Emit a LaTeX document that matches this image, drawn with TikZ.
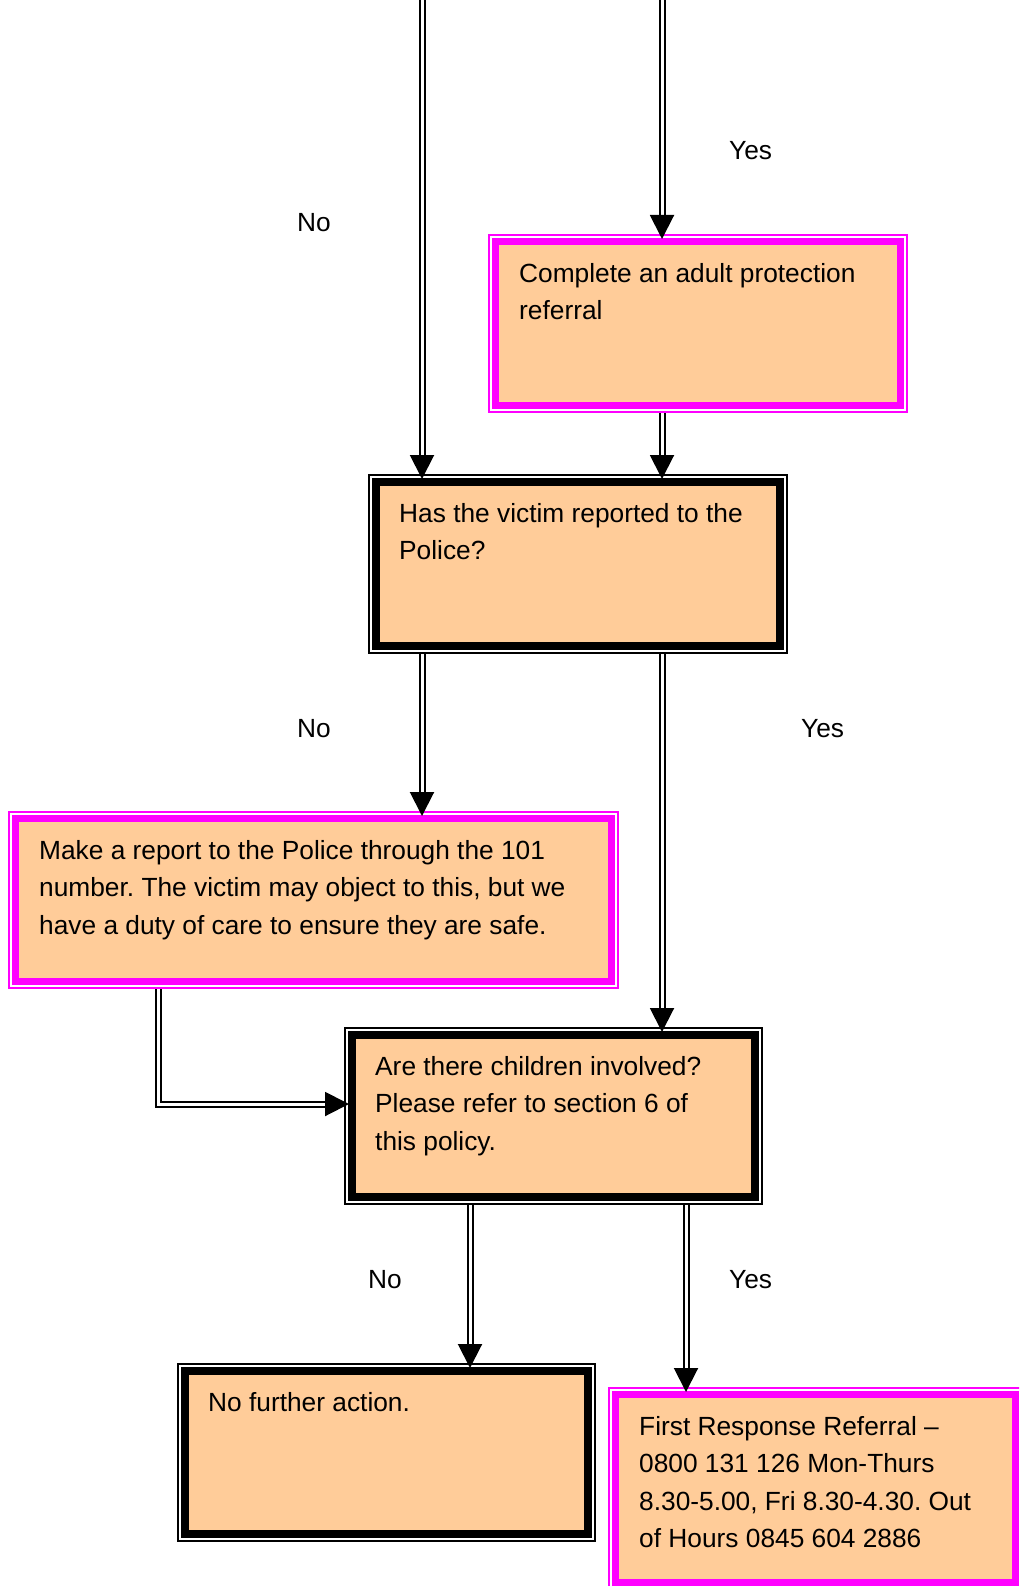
\documentclass[tikz,border=0pt]{standalone}
\usepackage{fontspec}
\setmainfont{Liberation Sans}
\usetikzlibrary{arrows.meta}

\definecolor{boxfill}{HTML}{FFCC99}
\definecolor{boxpink}{HTML}{FF00FF}

\tikzset{
  pinkbox/.style={draw=boxpink, fill=boxfill, line width=7pt, inner sep=0pt, outer sep=7.5pt},
  blackbox/.style={draw=black, fill=boxfill, line width=8pt, inner sep=0pt, outer sep=8pt},
  boxtext/.style={anchor=north west, inner sep=0pt, align=left,
    font=\fontsize{26.3}{37.4}\selectfont\frenchspacing, execute at begin node=\strut},
  answer/.style={anchor=base west, inner sep=0pt, font=\fontsize{26.3}{37.4}\selectfont},
  link/.style={draw=black, line width=2pt, double=white, double distance=3pt,
    -{Triangle[width=24pt,length=24pt]}, shorten >=-5pt},
}

\begin{document}
\begin{tikzpicture}[x=1pt,y=-1pt]
  \useasboundingbox (0,0) rectangle (1019,1586);
  \clip (0,0) rectangle (1019,1586);

  % boxes
  \node[pinkbox, minimum width=405pt, minimum height=164pt] (referral) at (698,323.5) {};
  \node[blackbox, minimum width=404pt, minimum height=164pt] (police) at (578,564) {};
  \node[pinkbox, minimum width=596pt, minimum height=163pt] (report) at (313.5,900) {};
  \node[blackbox, minimum width=403pt, minimum height=162pt] (children) at (553.5,1116) {};
  \node[blackbox, minimum width=403pt, minimum height=163pt] (nfa) at (386.5,1452.5) {};
  \node[pinkbox, minimum width=400pt, minimum height=188pt] (first) at (815.5,1488.5) {};

  % thin outer frames
  \foreach \b/\c in {referral/boxpink, police/black, report/boxpink, children/black, nfa/black, first/boxpink}
    \draw[draw=\c, line width=2pt] ([shift={(1,1)}]\b.north west) rectangle ([shift={(-1,-1)}]\b.south east);

  % texts
  \node[boxtext] (referral-text) at ([shift={(31,29)}]referral.north west)
    {Complete an adult protection\\referral};
  \node[boxtext] (police-text) at ([shift={(31,29)}]police.north west)
    {Has the victim reported to the\\Police?};
  \node[boxtext] (report-text) at ([shift={(31,29)}]report.north west)
    {Make a report to the Police through the 101\\number. The victim may object to this, but we\\have a duty of care to ensure they are safe.};
  \node[boxtext] (children-text) at ([shift={(31,29)}]children.north west)
    {Are there children involved?\\Please refer to section 6 of\\this policy.};
  \node[boxtext] (nfa-text) at ([shift={(31,22)}]nfa.north west)
    {No further action.};
  \node[boxtext] (first-text) at ([shift={(31,29)}]first.north west)
    {First Response Referral –\\0800 131 126 Mon-Thurs\\8.30-5.00, Fri 8.30-4.30. Out\\of Hours 0845 604 2886};

  % answers
  \node[answer] (yes1) at (729,160) {Yes};
  \node[answer] (no1) at (297,232) {No};
  \node[answer] (no2) at (297,737) {No};
  \node[answer] (yes2) at (801,737) {Yes};
  \node[answer] (no3) at (368,1288) {No};
  \node[answer] (yes3) at (729,1288) {Yes};

  % connectors
  \coordinate (topL) at (422,-20);
  \coordinate (topR) at (662,-20);
  \coordinate (bend) at (158,1104);
  \coordinate (lowL) at (470,0);
  \coordinate (lowR) at (686,0);
  \draw[link] (topL) -- (topL |- police.north);
  \draw[link] (topR) -- (topR |- referral.north);
  \draw[link] (topR |- referral.south) -- (topR |- police.north);
  \draw[link] (topL |- police.south) -- (topL |- report.north);
  \draw[link] (topR |- police.south) -- (topR |- children.north);
  \draw[link] (report.south -| bend) |- (children.west |- bend);
  \draw[link] (children.south -| lowL) -- (lowL |- nfa.north);
  \draw[link] (children.south -| lowR) -- (lowR |- first.north);
\end{tikzpicture}
\end{document}
